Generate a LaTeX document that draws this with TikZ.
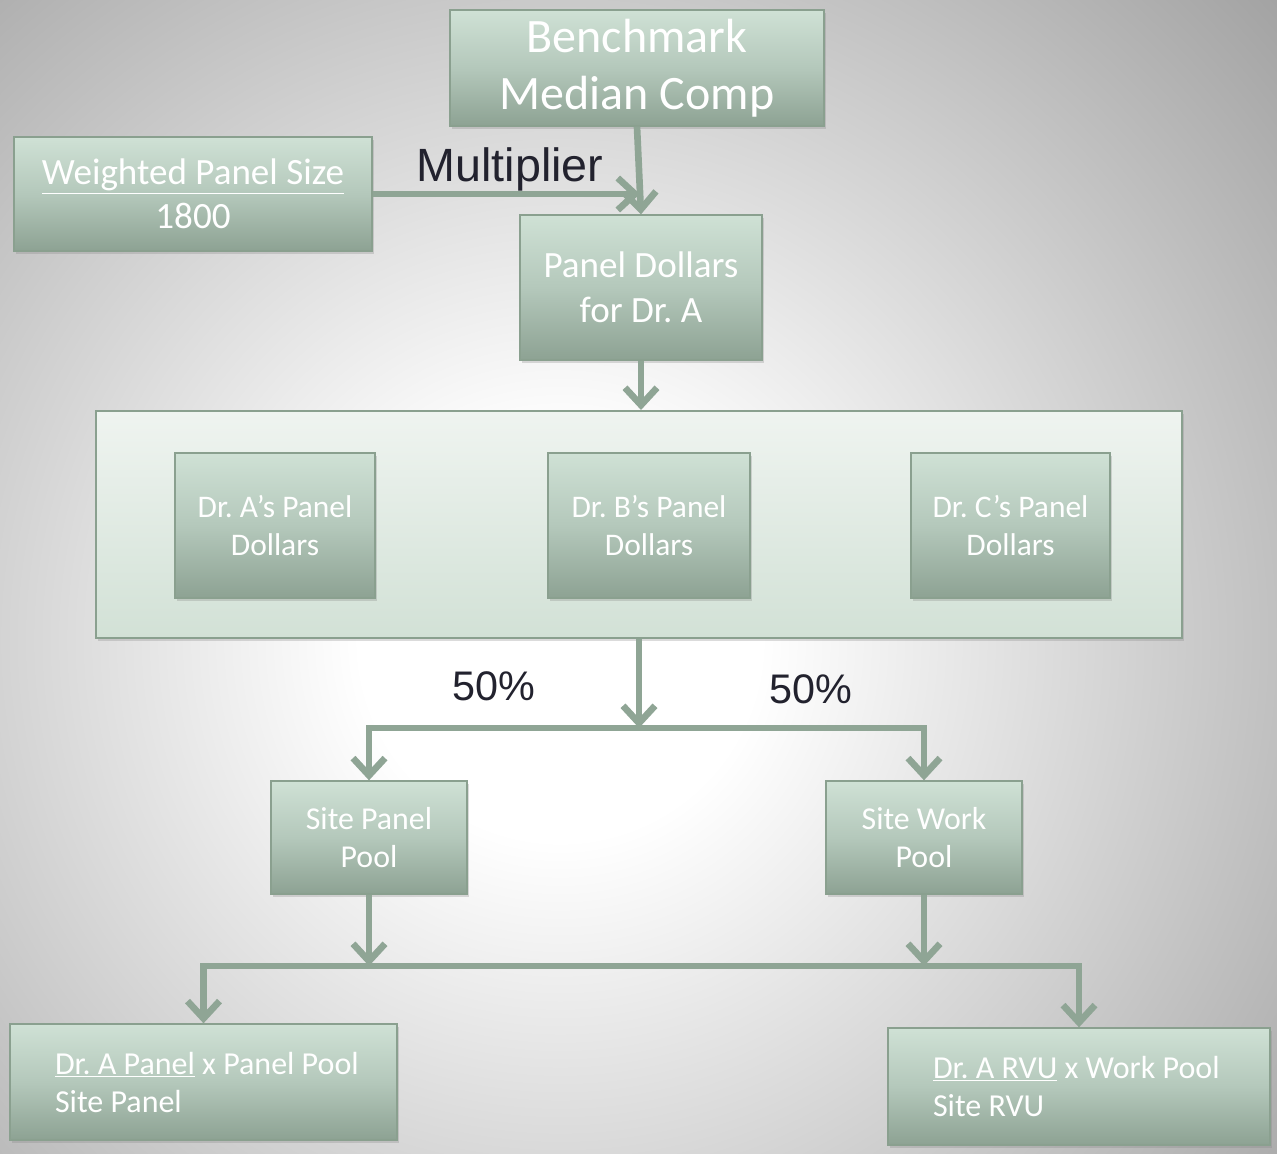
\documentclass[tikz,border=0pt]{standalone}
\usepackage{fontspec}
\setmainfont{Carlito}
\newfontfamily\arialf{Liberation Sans}
\usetikzlibrary{arrows.meta,shadows}
\definecolor{btop}{HTML}{CFE1D5}
\definecolor{bmid}{HTML}{B4C8BB}
\definecolor{bbot}{HTML}{8DA293}
\definecolor{bord}{HTML}{8AA08F}
\definecolor{ctop}{HTML}{EFF4F0}
\definecolor{cbot}{HTML}{D2E1D6}
\definecolor{arrc}{HTML}{8FA595}
\definecolor{lblc}{HTML}{22222E}
\pgfdeclareradialshading{bgrad}{\pgfpoint{0bp}{0bp}}{color(0bp)=(white); color(5bp)=(white); color(25bp)=(black!38); color(50bp)=(black!38)}
\frenchspacing
\begin{document}
\begin{tikzpicture}[x=0.75pt,y=-0.75pt,
  gbox/.style={draw=bord, line width=1pt, top color=btop, bottom color=bbot, middle color=bmid,
    text=white, align=center, inner sep=0pt,
    drop shadow={shadow xshift=1.8pt, shadow yshift=-2.2pt, opacity=0.28}},
  lbox/.style={gbox, align=flush left, inner xsep=0pt},
  contbox/.style={draw=bord, line width=1.5pt, top color=ctop, bottom color=cbot, inner sep=0pt,
    drop shadow={shadow xshift=1.8pt, shadow yshift=-2.2pt, opacity=0.28}},
  lbl/.style={text=lblc, inner sep=0pt, anchor=base},
  arr/.style={draw=arrc, line width=5pt, -{Straight Barb[length=13pt,width=24pt]}}
]
\useasboundingbox (0,0) rectangle (1277,1153);
\begin{scope}
  \clip (0,0) rectangle (1277,1153);
  \shade[shading=bgrad] (560,640) circle (1000);
\end{scope}

% boxes
\node[gbox, minimum width=280.5pt, minimum height=87pt, font=\fontsize{36}{43}\selectfont]
  (bench) at (637,68) {Benchmark\\Median Comp};
\node[gbox, minimum width=268.5pt, minimum height=85.5pt, font=\fontsize{27.8}{33}\selectfont]
  (wps) at (193,194) {\underline{Weighted Panel Size}\\1800};
\node[gbox, minimum width=181.5pt, minimum height=108.75pt, font=\fontsize{27.8}{34}\selectfont]
  (pd) at (641,287.5) {Panel Dollars\\for Dr. A};

\node[contbox, minimum width=814.5pt, minimum height=170.25pt] (cont) at (639,524.5) {};
\node[gbox, minimum width=150pt, minimum height=108.75pt, font=\fontsize{23.6}{29}\selectfont]
  (da) at (275,525.5) {Dr. A’s Panel\\Dollars};
\node[gbox, minimum width=151.5pt, minimum height=108.75pt, font=\fontsize{23.6}{29}\selectfont]
  (db) at (649,525.5) {Dr. B’s Panel\\Dollars};
\node[gbox, minimum width=149.25pt, minimum height=108.75pt, font=\fontsize{23.6}{29}\selectfont]
  (dc) at (1010.5,525.5) {Dr. C’s Panel\\Dollars};

\node[gbox, minimum width=147pt, minimum height=84.75pt, font=\fontsize{23.9}{29}\selectfont]
  (spp) at (369,837.5) {Site Panel\\Pool};
\node[gbox, minimum width=147pt, minimum height=84.75pt, font=\fontsize{23.9}{29}\selectfont]
  (swp) at (924,837.5) {Site Work\\Pool};

\node[lbox, text width=290.25pt, minimum height=87pt, font=\fontsize{24}{28.5}\selectfont]
  (rl) at (203.5,1082) {\hspace*{33.75pt}\underline{Dr. A Panel} x Panel Pool\\\hspace*{33.75pt}Site Panel};
\node[lbox, text width=286.5pt, minimum height=87.75pt, font=\fontsize{24}{28.5}\selectfont]
  (rr) at (1079,1086.5) {\hspace*{33.75pt}\underline{Dr. A RVU} x Work Pool\\\hspace*{33.75pt}Site RVU};

% labels
\node[lbl, font=\arialf\fontsize{35}{40}\selectfont] (mult) at (510,181) {Multiplier};
\node[lbl, font=\arialf\fontsize{31}{36}\selectfont] (pl) at (494,700) {50\%};
\node[lbl, font=\arialf\fontsize{31}{36}\selectfont] (pr) at (811,703) {50\%};

% junctions
\coordinate (j1) at (640,194);
\coordinate (j2) at (641,728);
\coordinate (j3) at (640,966);

% connectors
\draw[arr] (wps.east) -- (j1);
\draw[arr] (bench.south) -- (pd.north);
\draw[arr] (pd.south) -- (pd.south |- cont.north);
\draw[arr] (cont.south) -- (cont.south |- j2);
\draw[arr] (j2) -| (spp.north);
\draw[arr] (j2) -| (swp.north);
\draw[arr] (spp.south) -- (spp.south |- j3);
\draw[arr] (swp.south) -- (swp.south |- j3);
\draw[arr] (j3) -| (rl.north);
\draw[arr] (j3) -| (rr.north);
\end{tikzpicture}
\end{document}
